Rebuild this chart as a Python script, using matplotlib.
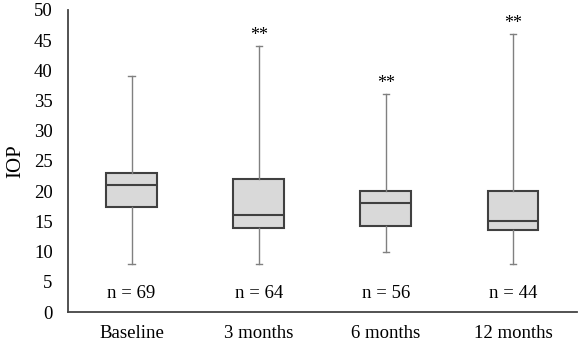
import matplotlib.pyplot as plt

plt.rcParams['font.family'] = ['Liberation Serif', 'DejaVu Serif']

groups = ['Baseline', '3 months', '6 months', '12 months']
whislo = [8, 8, 10, 8]
q1 = [17.4, 13.9, 14.2, 13.6]
med = [21, 16, 18, 15]
q3 = [23, 22, 20, 20]
whishi = [39, 44, 36, 46]
n_counts = [69, 64, 56, 44]
signif = ['', '**', '**', '**']

stats = []
for i, g in enumerate(groups):
    stats.append({'label': g, 'whislo': whislo[i], 'q1': q1[i], 'med': med[i],
                  'q3': q3[i], 'whishi': whishi[i], 'fliers': []})

fig = plt.figure(figsize=(5.78, 3.53), dpi=100)
ax = fig.add_axes([0.1176, 0.116, 0.88, 0.856])

pos = list(range(1, len(groups) + 1))
ax.bxp(stats, positions=pos, widths=0.4, capwidths=0.05, patch_artist=True,
       showfliers=False,
       boxprops=dict(facecolor='#d9d9d9', edgecolor='#404040', linewidth=1.5),
       medianprops=dict(color='#404040', linewidth=1.5),
       whiskerprops=dict(color='#808080', linewidth=1.0),
       capprops=dict(color='#808080', linewidth=1.0))

for i, p in enumerate(pos):
    ax.text(p, 3.1, f'n = {n_counts[i]}', ha='center', va='center', fontsize=13.5)
    if signif[i]:
        ax.text(p, whishi[i] + 0.4, signif[i], ha='center', va='bottom', fontsize=13)

ax.set_xlim(0.5, 4.5)
ax.set_ylim(0, 50)
ax.set_yticks(range(0, 51, 5))
ax.set_ylabel('IOP', fontsize=15, labelpad=6)
ax.tick_params(axis='both', length=0, labelsize=13.5)
ax.tick_params(axis='y', pad=11)
ax.tick_params(axis='x', pad=9)
for s in ['top', 'right']:
    ax.spines[s].set_visible(False)
for s in ['left', 'bottom']:
    ax.spines[s].set_color('#444444')
    ax.spines[s].set_linewidth(1.3)

fig.savefig('out.png', dpi=100)
